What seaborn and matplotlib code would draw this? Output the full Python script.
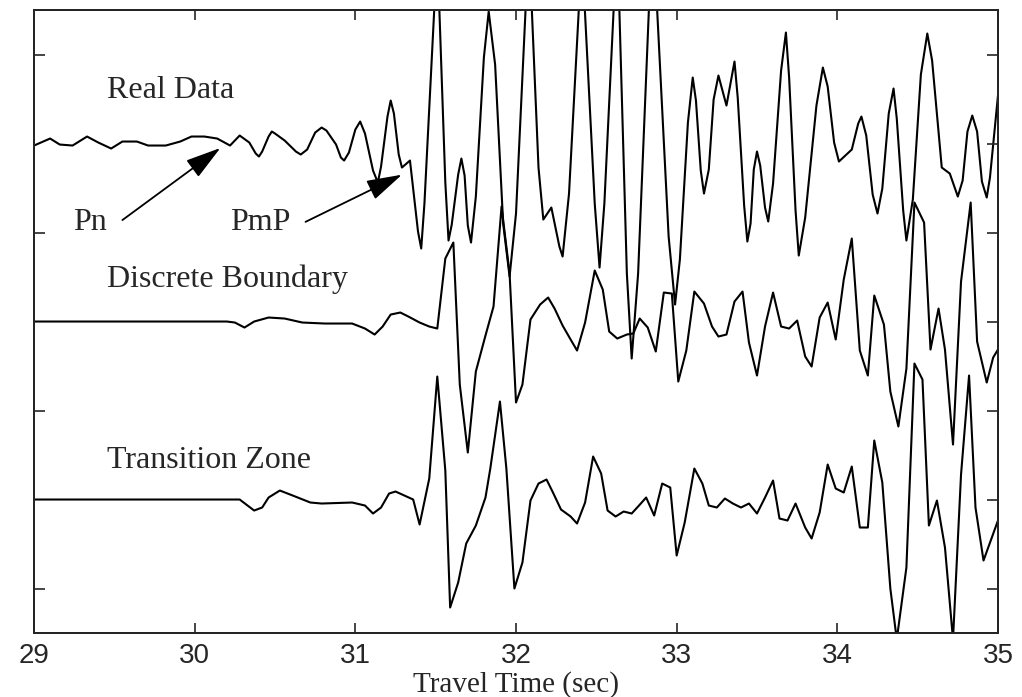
import numpy as np
import pandas as pd
import matplotlib
matplotlib.use("Agg")
import matplotlib.pyplot as plt
import seaborn as sns

# ---- seismogram traces (time in s, amplitude in relative counts) ----
real_time = [29.00, 29.10, 29.16, 29.24, 29.33, 29.40, 29.48, 29.55, 29.64, 29.71,
             29.82, 29.91, 29.98, 30.06, 30.14, 30.22, 30.28, 30.34, 30.38, 30.40,
             30.42, 30.46, 30.48, 30.50, 30.56, 30.63, 30.66, 30.70, 30.75, 30.79,
             30.82, 30.88, 30.91, 30.93, 30.96, 31.00, 31.03, 31.06, 31.11, 31.14,
             31.16, 31.20, 31.22, 31.24, 31.27, 31.29, 31.34, 31.39, 31.41, 31.43,
             31.51, 31.56, 31.58, 31.60, 31.64, 31.66, 31.68, 31.70, 31.72, 31.75,
             31.80, 31.83, 31.87, 31.92, 31.96, 32.00, 32.08, 32.14, 32.17, 32.22,
             32.27, 32.29, 32.33, 32.41, 32.49, 32.52, 32.55, 32.63, 32.69, 32.72,
             32.76, 32.85, 32.95, 32.99, 33.02, 33.07, 33.10, 33.12, 33.15, 33.17,
             33.20, 33.23, 33.26, 33.31, 33.36, 33.38, 33.42, 33.44, 33.46, 33.48,
             33.50, 33.52, 33.55, 33.57, 33.60, 33.65, 33.68, 33.70, 33.74, 33.76,
             33.80, 33.87, 33.91, 33.94, 33.98, 34.01, 34.09, 34.13, 34.15, 34.18,
             34.22, 34.25, 34.28, 34.32, 34.35, 34.37, 34.41, 34.43, 34.47, 34.52,
             34.56, 34.59, 34.65, 34.70, 34.75, 34.78, 34.81, 34.84, 34.87, 34.90,
             34.93, 34.95, 35.00]
real_amp = [-2, 5, -1, -2, 7, 1, -5, 2, 2, -2,
            -2, 2, 7, 7, 5, -2, 8, 1, -10, -13,
            -8, 7, 12, 10, 3, -8, -11, -6, 11, 16,
            13, -1, -14, -17, -9, 14, 22, 10, -27, -39,
            -23, 27, 43, 30, -11, -24, -17, -88, -105, -60,
            194, -39, -97, -81, -31, -15, -32, -82, -99, -53,
            86, 132, 79, -80, -133, -70, 204, -24, -76, -64,
            -103, -113, -50, 192, -60, -124, -60, 209, -130, -215,
            -130, 224, -93, -161, -116, 21, 66, 43, -27, -50,
            -26, 44, 68, 38, 82, 46, -62, -98, -80, -26,
            -8, -22, -64, -78, -40, 73, 111, 66, -67, -112,
            -74, 38, 76, 57, 1, -18, -6, 20, 27, 8,
            -51, -70, -45, 30, 55, 25, -67, -97, -56, 69,
            110, 83, -24, -30, -53, -37, 12, 28, 12, -38,
            -54, -34, 48]

discrete_time = [29.00, 30.20, 30.25, 30.31, 30.37, 30.46, 30.56, 30.67, 30.81, 30.98,
                 31.06, 31.12, 31.17, 31.22, 31.28, 31.33, 31.40, 31.46, 31.51, 31.56,
                 31.61, 31.65, 31.70, 31.75, 31.81, 31.86, 31.91, 31.96, 32.00, 32.04,
                 32.09, 32.15, 32.20, 32.24, 32.29, 32.34, 32.38, 32.43, 32.49, 32.54,
                 32.58, 32.63, 32.69, 32.73, 32.77, 32.82, 32.87, 32.92, 32.97, 33.01,
                 33.06, 33.11, 33.17, 33.22, 33.26, 33.31, 33.36, 33.41, 33.45, 33.50,
                 33.55, 33.60, 33.65, 33.70, 33.75, 33.80, 33.84, 33.89, 33.94, 33.99,
                 34.04, 34.09, 34.14, 34.19, 34.23, 34.29, 34.33, 34.38, 34.43, 34.48,
                 34.54, 34.58, 34.63, 34.67, 34.72, 34.77, 34.83, 34.87, 34.93, 34.97,
                 35.00]
discrete_amp = [0, 0, -1, -6, 0, 4, 3, -1, -2, -2,
                -7, -13, -5, 7, 9, 5, -1, -5, -7, 63,
                79, -63, -131, -50, -14, 15, 115, 48, -81, -63,
                2, 17, 24, 13, -4, -18, -29, -1, 51, 32,
                -10, -17, -13, -12, 3, -6, -30, 29, 28, -60,
                -29, 30, 18, -5, -15, -13, 20, 30, -21, -54,
                -5, 29, -5, -7, 1, -35, -45, 4, 19, -18,
                42, 83, -29, -54, 26, -3, -70, -105, -47, 119,
                99, -28, 13, -28, -123, 40, 119, -20, -61, -36,
                -28]

transition_time = [29.00, 30.28, 30.37, 30.42, 30.46, 30.53, 30.61, 30.72, 30.79, 30.98,
                   31.06, 31.11, 31.16, 31.21, 31.25, 31.36, 31.40, 31.46, 31.51, 31.56,
                   31.59, 31.64, 31.69, 31.75, 31.81, 31.84, 31.90, 31.94, 31.99, 32.04,
                   32.09, 32.14, 32.19, 32.23, 32.28, 32.34, 32.38, 32.43, 32.48, 32.53,
                   32.57, 32.62, 32.67, 32.72, 32.76, 32.81, 32.86, 32.91, 32.96, 33.00,
                   33.05, 33.11, 33.16, 33.20, 33.25, 33.30, 33.35, 33.40, 33.45, 33.50,
                   33.55, 33.60, 33.64, 33.69, 33.74, 33.80, 33.84, 33.89, 33.94, 33.99,
                   34.04, 34.09, 34.14, 34.19, 34.23, 34.28, 34.33, 34.37, 34.43, 34.48,
                   34.53, 34.57, 34.62, 34.67, 34.72, 34.77, 34.82, 34.86, 34.91, 35.00]
transition_amp = [0, 0, -11, -8, 2, 9, 4, -3, -4, -3,
                  -6, -14, -8, 6, 8, 0, -25, 21, 123, 29,
                  -108, -83, -44, -26, 2, 31, 98, 31, -89, -63,
                  -1, 16, 20, 7, -10, -17, -24, -3, 43, 26,
                  -11, -17, -12, -14, -7, 2, -16, 16, 12, -56,
                  -23, 31, 16, -6, -8, 1, -4, -8, -4, -14,
                  2, 19, -19, -21, -4, -28, -39, -13, 35, 11,
                  7, 33, -28, -28, 59, 17, -89, -140, -68, 136,
                  120, -26, -1, -48, -140, 25, 124, -8, -61, -21]

trace_names = ["Real Data", "Discrete Boundary", "Transition Zone"]
trace_offsets = [5.5, 3.5, 1.5]
x_ticks = [29, 30, 31, 32, 33, 34, 35]

GAIN = 1.0 / 89.0  # counts -> trace-spacing units

traces = [(real_time, real_amp), (discrete_time, discrete_amp),
          (transition_time, transition_amp)]
frames = []
for name, off, (t, a) in zip(trace_names, trace_offsets, traces):
    frames.append(pd.DataFrame({"time": t,
                                "value": off + np.asarray(a) * GAIN,
                                "trace": name}))
df = pd.concat(frames, ignore_index=True)

sns.set_style("ticks")
plt.rcParams["font.family"] = ["Liberation Serif", "DejaVu Serif"]
plt.rcParams["axes.linewidth"] = 1.4

fig = plt.figure(figsize=(10.22, 6.97), dpi=100)
ax = fig.add_axes([0.0333, 0.0918, 0.9432, 0.8938])

for name in trace_names:
    sns.lineplot(data=df[df["trace"] == name], x="time", y="value",
                 ax=ax, color="black", linewidth=1.5, sort=False,
                 estimator=None, legend=False)

ax.set_xlim(29, 35)
ax.set_ylim(0, 7)
ax.set_xticks(x_ticks)
ax.set_xticklabels([str(v) for v in x_ticks], fontfamily="Liberation Sans",
                   fontsize=20)
ax.set_yticks([0.5, 2.5, 4.5, 6.5])
ax.set_yticklabels([])
ax.set_ylabel("")
ax.set_xlabel("Travel Time (sec)", fontsize=21, labelpad=2)
ax.tick_params(axis="x", direction="in", top=True, length=7, width=1.2, pad=7)
ax.tick_params(axis="y", direction="in", left=True, right=False, length=8,
               width=1.2)

ax2 = ax.twinx()
ax2.set_ylim(0, 7)
ax2.set_yticks(np.arange(0.5, 7, 1.0))
ax2.set_yticklabels([])
ax2.tick_params(axis="y", direction="in", length=8, width=1.2)
for side in ("left", "right", "top", "bottom"):
    ax.spines[side].set_color("black")
    ax2.spines[side].set_linewidth(1.4)

# trace titles and phase labels
ax.text(29.455, 6.01, "Real Data", fontsize=23, va="baseline")
ax.text(29.455, 3.89, "Discrete Boundary", fontsize=23, va="baseline")
ax.text(29.455, 1.85, "Transition Zone", fontsize=23, va="baseline")
ax.text(29.24, 4.53, "Pn", fontsize=23, va="baseline")
ax.text(30.22, 4.53, "PmP", fontsize=23, va="baseline")

arrow_style = dict(arrowstyle="-|>,head_length=1.1,head_width=0.32",
                   color="black", lw=1.3, shrinkA=0, shrinkB=0,
                   mutation_scale=20)
ax.annotate("", xy=(30.16, 5.45), xytext=(29.55, 4.64), arrowprops=arrow_style)
ax.annotate("", xy=(31.29, 5.15), xytext=(30.69, 4.62), arrowprops=arrow_style)

fig.savefig("out.png", dpi=100)
